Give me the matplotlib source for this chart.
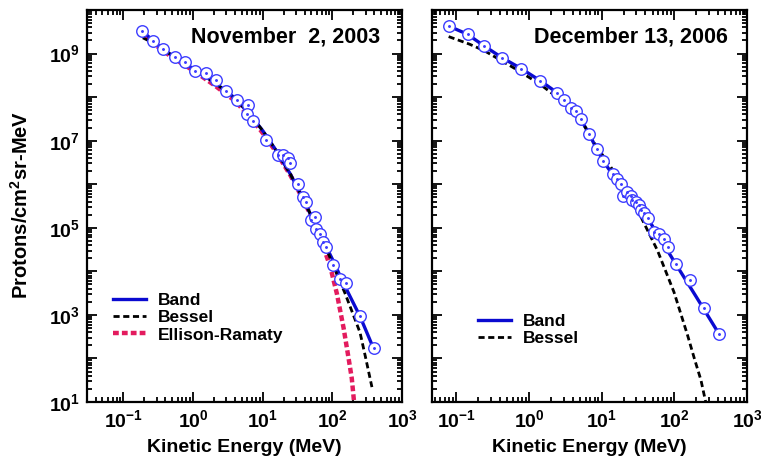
import matplotlib
matplotlib.use("Agg")
import matplotlib.pyplot as plt
import numpy as np
from matplotlib.ticker import LogLocator, FuncFormatter

# ---- November 2, 2003 ----
nov_E    = [0.185, 0.267, 0.37, 0.545, 0.76, 1.08, 1.51, 2.14, 2.96, 4.27, 6.13, 5.96,
            7.16, 11.2, 16.6, 19.5, 22.7, 24.9, 32, 37.8, 41.8, 49.3, 56.9, 59, 67,
            73.3, 81, 102, 127, 158, 251, 390]
nov_flux = [3.3e9, 1.9e9, 1.24e9, 8.5e8, 6.3e8, 4.0e8, 3.6e8, 2.5e8, 1.35e8, 8.8e7, 6.6e7, 4.1e7,
            2.9e7, 1.05e7, 4.75e6, 4.6e6, 4.0e6, 3.05e6, 1.02e6, 5.0e5, 3.9e5, 1.48e5, 1.76e5, 9.6e4, 7.1e4,
            4.7e4, 3.7e4, 1.38e4, 6.5e3, 5.3e3, 930, 170]

nov_band_E    = [0.19, 0.3, 0.5, 1, 2, 4, 7, 10, 15, 25, 40, 60, 100, 150, 250, 390]
nov_band_flux = [3.2e9, 1.65e9, 9.0e8, 4.5e8, 2.2e8, 9.5e7, 3.5e7, 1.7e7, 6.5e6, 1.7e6, 3.9e5,
                 1.0e5, 1.9e4, 4.7e3, 920, 170]

nov_bessel_E    = [0.19, 0.3, 0.5, 1, 2, 4, 7, 10, 15, 25, 40, 60, 90, 120, 150, 200, 250, 300, 370]
nov_bessel_flux = [2.3e9, 1.6e9, 9.0e8, 4.5e8, 2.2e8, 9.5e7, 3.5e7, 1.7e7, 6.5e6, 1.7e6, 3.9e5,
                   1.0e5, 2.3e4, 7.5e3, 3.3e3, 1.0e3, 390, 105, 22]

nov_er_E    = [0.2, 0.3, 0.5, 1, 2, 4, 7, 10, 15, 25, 40, 60, 93, 116, 145, 170, 190, 205]
nov_er_flux = [2.8e9, 1.5e9, 8.2e8, 4.1e8, 1.9e8, 8.2e7, 3.1e7, 1.5e7, 6.0e6, 1.6e6, 3.8e5,
               9.5e4, 1.3e4, 3.1e3, 5.0e2, 107, 35, 10]

# ---- December 13, 2006 ----
dec_E    = [0.080, 0.142, 0.238, 0.418, 0.78, 1.41, 2.45, 3.06, 3.82, 4.48, 5.13, 6.6, 8.6,
            10.4, 14.2, 16.1, 18.3, 19.9, 22.6, 25.1, 26.5, 29.4, 32.7, 34.5, 38.4, 42.7,
            51.6, 60.5, 72.4, 82.2, 105, 164, 258, 414]
dec_flux = [4.2e9, 2.8e9, 1.5e9, 8.1e8, 4.5e8, 2.4e8, 1.25e8, 8.8e7, 5.7e7, 4.7e7, 3.1e7, 1.46e7, 6.3e6,
            3.4e6, 1.74e6, 1.34e6, 1.02e6, 5.5e5, 6.8e5, 5.5e5, 4.4e5, 3.9e5, 3.25e5, 2.6e5, 2.2e5, 1.67e5,
            7.9e4, 7.3e4, 5.6e4, 3.6e4, 1.5e4, 6.2e3, 1.45e3, 360]

dec_band_E    = [0.08, 0.14, 0.24, 0.42, 0.78, 1.41, 2.45, 3.8, 5.13, 6.6, 8.5, 10.5, 14, 18,
                 25, 33, 42.7, 100, 200, 414]
dec_band_flux = [4.2e9, 2.8e9, 1.5e9, 8.1e8, 4.5e8, 2.4e8, 1.25e8, 5.9e7, 3.1e7, 1.5e7, 6.5e6,
                 3.4e6, 1.7e6, 1.05e6, 5.5e5, 3.1e5, 1.67e5, 1.66e4, 2.6e3, 360]

dec_bessel_E    = [0.078, 0.15, 0.24, 0.6, 1.4, 3.2, 5, 8.3, 13.3, 20, 34.5, 58.6, 99, 152,
                   190, 232, 270]
dec_bessel_flux = [2.45e9, 1.65e9, 1.17e9, 4.8e8, 2.0e8, 7.0e7, 3.3e7, 7.8e6, 2.5e6, 8.5e5,
                   1.8e5, 3.0e4, 3.3e3, 340, 95, 32, 10]

band_color = "#0a0ad0"
marker_color = "#3c3cff"
er_color = "#e31b5e"

plt.rcParams['font.family'] = ['Liberation Sans', 'DejaVu Sans']
plt.rcParams['font.weight'] = 'bold'
plt.rcParams['mathtext.fontset'] = 'custom'
plt.rcParams['mathtext.rm'] = 'Liberation Sans:bold'
plt.rcParams['mathtext.it'] = 'Liberation Sans:bold'
plt.rcParams['mathtext.bf'] = 'Liberation Sans:bold'
plt.rcParams['mathtext.default'] = 'bf'


def xfmt(v, pos):
    return r'$10^{%d}$' % int(round(np.log10(v)))


def yfmt(v, pos):
    p = int(round(np.log10(v)))
    if p % 2 == 1:
        return r'$10^{%d}$' % p
    return ''


def style_axes(ax, xlim, ylabels):
    ax.set_xscale('log')
    ax.set_yscale('log')
    ax.set_xlim(*xlim)
    ax.set_ylim(10, 1e10)
    for a in (ax.xaxis, ax.yaxis):
        a.set_major_locator(LogLocator(base=10, numticks=20))
        a.set_minor_locator(LogLocator(base=10, subs=np.arange(2, 10), numticks=20))
    ax.xaxis.set_major_formatter(FuncFormatter(xfmt))
    if ylabels:
        ax.yaxis.set_major_formatter(FuncFormatter(yfmt))
    else:
        ax.yaxis.set_major_formatter(FuncFormatter(lambda v, p: ''))
    ax.tick_params(which='both', direction='in', top=True, right=True, width=1.3)
    ax.tick_params(which='major', length=7, labelsize=14, pad=5)
    ax.tick_params(which='minor', length=3.5)
    for s in ax.spines.values():
        s.set_linewidth(1.6)
    ax.set_xlabel('Kinetic Energy (MeV)', fontsize=14, fontweight='bold', va='center')
    ax.xaxis.set_label_coords(0.5, -0.115)


def draw_points(ax, E, flux):
    ax.plot(E, flux, 'o', ms=8.3, mfc='white', mec=marker_color, mew=1.0, zorder=5)
    ax.plot(E, flux, 'o', ms=1.1, color=marker_color, zorder=6)


fig = plt.figure(figsize=(7.61, 4.68), dpi=100)
ax1 = fig.add_axes([87 / 761, 66 / 468, 315 / 761, 392 / 468])
ax2 = fig.add_axes([432 / 761, 66 / 468, 315 / 761, 392 / 468])

# left panel
ax1.plot(nov_er_E, nov_er_flux, color=er_color, lw=3.2, dashes=(1.3, 0.7), label='Ellison-Ramaty', zorder=2)
ax1.plot(nov_band_E, nov_band_flux, color=band_color, lw=2.4, label='Band', zorder=3)
ax1.plot(nov_bessel_E, nov_bessel_flux, color='black', lw=2.0, dashes=(2.2, 1.3), label='Bessel', zorder=4)
draw_points(ax1, nov_E, nov_flux)
style_axes(ax1, (0.03, 1000), True)
ax1.text(0.93, 0.931, 'November  2, 2003', transform=ax1.transAxes, ha='right', va='center',
         fontsize=15.5, fontweight='bold')
h, l = ax1.get_legend_handles_labels()
order = [1, 2, 0]
ax1.legend([h[i] for i in order], [l[i] for i in order], loc='center left',
           bbox_to_anchor=(0.083, 0.215), frameon=False, fontsize=12.5, handlelength=1.9,
           handletextpad=0.7, labelspacing=0.12, borderpad=0, borderaxespad=0)
ax1.set_ylabel(r'Protons/cm$^2$sr-MeV', fontsize=14.5, fontweight='bold', va='center')
ax1.yaxis.set_label_coords(-0.2095, 0.5026)

# right panel
ax2.plot(dec_band_E, dec_band_flux, color=band_color, lw=2.4, label='Band', zorder=3)
ax2.plot(dec_bessel_E, dec_bessel_flux, color='black', lw=2.0, dashes=(2.2, 1.3), label='Bessel', zorder=4)
draw_points(ax2, dec_E, dec_flux)
style_axes(ax2, (0.046, 1000), False)
ax2.text(0.94, 0.931, 'December 13, 2006', transform=ax2.transAxes, ha='right', va='center',
         fontsize=15.5, fontweight='bold')
ax2.legend(loc='center left', bbox_to_anchor=(0.146, 0.184), frameon=False, fontsize=12.5,
           handlelength=1.9, handletextpad=0.7, labelspacing=0.12, borderpad=0, borderaxespad=0)

fig.savefig('out.png', dpi=100)
